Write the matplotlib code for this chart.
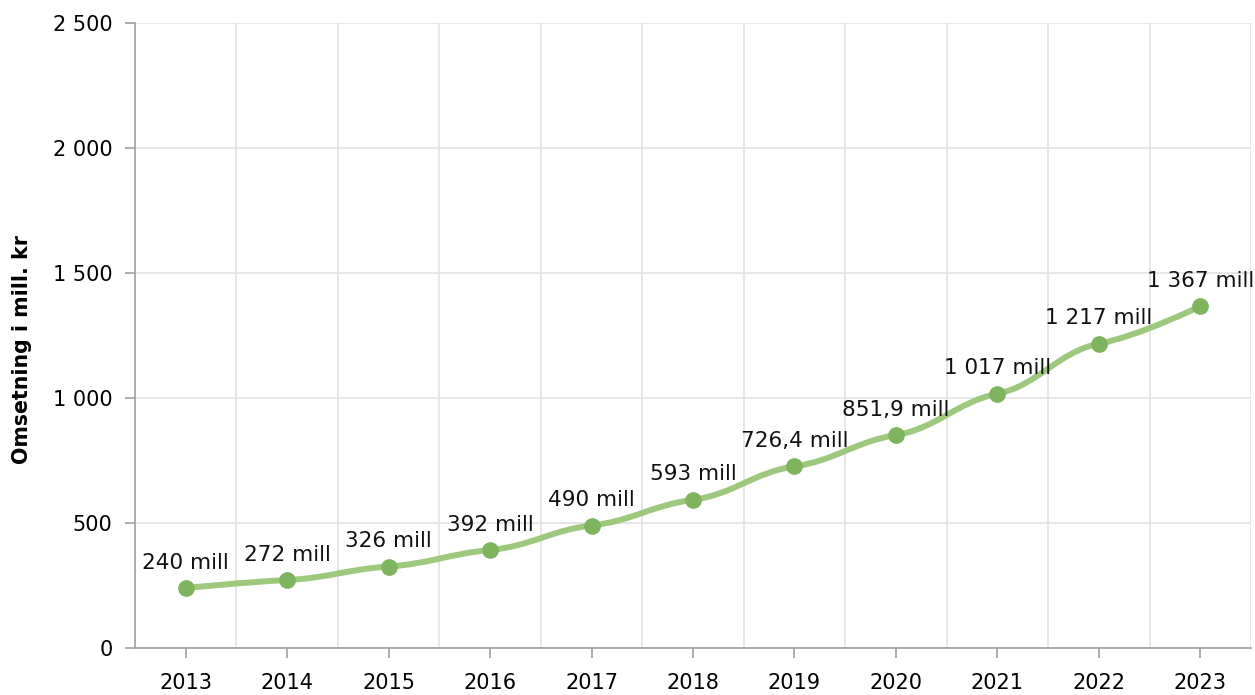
import numpy as np
import matplotlib.pyplot as plt
from matplotlib.path import Path
from matplotlib.patches import PathPatch
from matplotlib.ticker import FuncFormatter

# data
years = ["2013", "2014", "2015", "2016", "2017", "2018", "2019", "2020", "2021", "2022", "2023"]
omsetning = [240, 272, 326, 392, 490, 593, 726.4, 851.9, 1017, 1217, 1367]
labels = ["240 mill", "272 mill", "326 mill", "392 mill", "490 mill", "593 mill",
          "726,4 mill", "851,9 mill", "1 017 mill", "1 217 mill", "1 367 mill"]

line_col = "#9dc97f"
dot_col = "#7db45d"
grid_col = "#e3e3e3"
axis_col = "#a0a0a0"


def spline_path(x, y, smoothing=1.5, tension=0.45):
    # bezier spline, tangents at the points a bit flatter than catmull-rom
    n = len(x)
    denom = smoothing + 1
    lc = [None] * n
    rc = [None] * n
    for i in range(1, n - 1):
        lx = (smoothing * x[i] + x[i - 1]) / denom
        ly = (smoothing * y[i] + y[i - 1]) / denom
        rx = (smoothing * x[i] + x[i + 1]) / denom
        ry = (smoothing * y[i] + y[i + 1]) / denom
        corr = (ry - ly) * (rx - x[i]) / (rx - lx) + y[i] - ry
        ly += corr
        ry += corr
        ly = y[i] + (ly - y[i]) * tension
        ry = y[i] + (ry - y[i]) * tension
        lc[i] = (lx, ly)
        rc[i] = (rx, ry)
    verts = [(x[0], y[0])]
    codes = [Path.MOVETO]
    for i in range(1, n):
        c1 = rc[i - 1] if rc[i - 1] else (x[i - 1], y[i - 1])
        c2 = lc[i] if lc[i] else (x[i], y[i])
        verts += [c1, c2, (x[i], y[i])]
        codes += [Path.CURVE4] * 3
    return Path(verts, codes)


fig = plt.figure(figsize=(12.55, 6.95), dpi=100)
ax = fig.add_axes([0.1076, 0.0676, 0.8892, 0.8993])

x = np.arange(len(years))
ax.add_patch(PathPatch(spline_path(list(x), omsetning), fill=False, edgecolor=line_col,
                       lw=4.3, capstyle="round", zorder=3))
ax.plot(x, omsetning, "o", color=dot_col, ms=11, zorder=4)

for xi, yi, lab in zip(x, omsetning, labels):
    ax.annotate(lab, (xi, yi), xytext=(0, 11), textcoords="offset points",
                ha="center", va="bottom", fontsize=15.5, color="#111111", zorder=5)

ax.set_xlim(-0.5, len(years) - 0.5)
ax.set_ylim(0, 2500)
ax.set_xticks(x)
ax.set_xticklabels(years)
ax.set_yticks(np.arange(0, 2501, 500))
ax.yaxis.set_major_formatter(FuncFormatter(lambda v, p: f"{int(v):,}".replace(",", " ")))
ax.set_xticks(np.arange(-0.5, len(years), 1), minor=True)

ax.grid(axis="y", which="major", color=grid_col, lw=1.2)
ax.grid(axis="x", which="minor", color=grid_col, lw=1.2)
ax.grid(axis="x", which="major", visible=False)
ax.set_axisbelow(True)

for s in ["top", "right"]:
    ax.spines[s].set_visible(False)
for s in ["left", "bottom"]:
    ax.spines[s].set_color(axis_col)
    ax.spines[s].set_linewidth(1.2)
ax.tick_params(axis="both", which="major", length=7.2, color=axis_col, labelsize=15, width=1.2)
ax.tick_params(axis="x", which="minor", length=0)
ax.tick_params(axis="x", pad=11)
ax.tick_params(axis="y", pad=9)

ax.set_ylabel("Omsetning i mill. kr", fontsize=14.8, fontweight="bold")
ax.yaxis.set_label_coords(-0.092, 0.477)

fig.savefig("out.png", dpi=100)
